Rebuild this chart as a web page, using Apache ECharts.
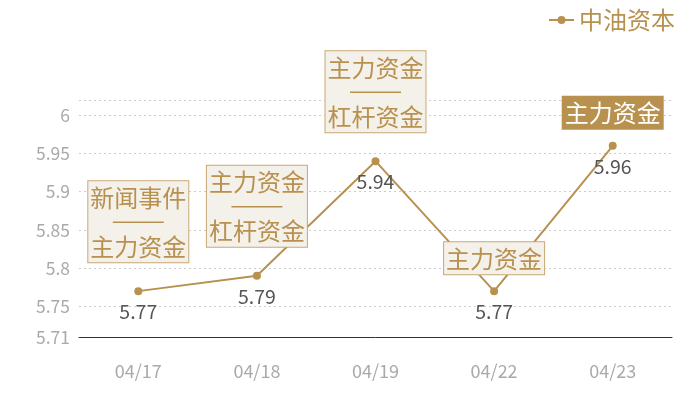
<!DOCTYPE html>
<html><head><meta charset="utf-8">
<script src="https://cdn.jsdelivr.net/npm/echarts@6/dist/echarts.min.js"></script>
<style>html,body{margin:0;padding:0;background:#fff}#c{width:700px;height:400px}</style>
</head><body><div id="c"></div>
<script>
var categories = ['04/17','04/18','04/19','04/22','04/23'];
var prices = [5.77, 5.79, 5.94, 5.77, 5.96];
var eventTop = ['新闻事件','主力资金','主力资金','主力资金','主力资金'];
var eventBottom = ['主力资金','杠杆资金','杠杆资金','',''];
var highlighted = [false, false, false, false, true];
var seriesName = '中油资本';

var FONT = '"Noto Sans CJK SC", "Noto Sans", sans-serif';
var GOLD = '#b8914f';

var eventData = prices.map(function (v, i) {
  var twoLine = eventBottom[i] !== '';
  var hi = highlighted[i];
  return {
    value: v,
    label: {
      show: true,
      opacity: 1,
      position: 'top',
      distance: twoLine ? 29 : 17,
      formatter: twoLine ? ('{t|' + eventTop[i] + '}\n{d| }\n{t|' + eventBottom[i] + '}') : ('{t|' + eventTop[i] + '}'),
      backgroundColor: hi ? GOLD : '#f4f0ea',
      borderColor: hi ? GOLD : '#c9a873',
      borderWidth: 1,
      padding: [2, 2, 1, 2],
      rich: {
        t: { fontSize: 24, lineHeight: 29, color: hi ? '#fff' : GOLD, fontFamily: FONT },
        d: { fontSize: 2, width: 51, height: 1.5, lineHeight: 20, backgroundColor: GOLD, color: GOLD }
      }
    }
  };
});

var chart = echarts.init(document.getElementById('c'));
chart.setOption({
  animation: false,
  textStyle: { fontFamily: FONT },
  legend: {
    data: [seriesName],
    right: 20, top: 3,
    itemWidth: 25, itemHeight: 10,
    textStyle: { color: GOLD, fontSize: 24, fontFamily: FONT }
  },
  grid: { left: 79, right: 28, top: 100, bottom: 63 },
  xAxis: {
    type: 'category',
    data: categories,
    axisLine: { lineStyle: { color: '#333', width: 1 } },
    axisTick: { show: false },
    axisLabel: { color: '#aaa', fontSize: 18, margin: 25, fontFamily: FONT }
  },
  yAxis: {
    type: 'value',
    min: 5.71, max: 6.02,
    axisLine: { show: false },
    axisTick: { show: false },
    axisLabel: { color: '#aaa', fontSize: 17.5, margin: 9, fontFamily: FONT },
    splitLine: { lineStyle: { color: '#ccc', type: [2, 3] } }
  },
  series: [
    {
      name: seriesName,
      type: 'line',
      data: prices,
      symbol: 'circle',
      symbolSize: 8,
      itemStyle: { color: GOLD },
      lineStyle: { color: GOLD, width: 2 },
      label: { show: true, position: 'bottom', distance: 7, color: '#555', fontSize: 19.5, fontFamily: FONT },
      z: 2
    },
    {
      name: 'events',
      type: 'scatter',
      data: eventData,
      symbolSize: 0,
      itemStyle: { color: GOLD, opacity: 1 },
      emphasis: { disabled: true },
      silent: true,
      z: 5
    }
  ]
});
</script></body></html>
